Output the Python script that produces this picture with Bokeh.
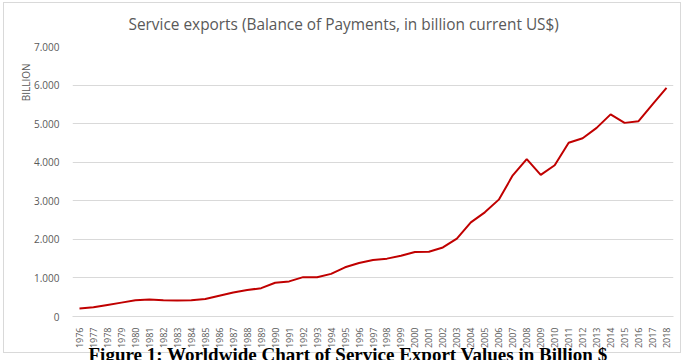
import math
from bokeh.plotting import figure
from bokeh.models import FixedTicker, CustomJSTickFormatter, Title, Range1d
from bokeh.embed import file_html
from bokeh.resources import INLINE

# Service exports, balance of payments, billion current US$
years = list(range(1976, 2019))
exports = [210, 240, 300, 360, 420, 440, 420, 415, 420, 455,
           540, 620, 685, 735, 875, 910, 1020, 1020, 1105, 1275,
           1385, 1465, 1500, 1575, 1670, 1680, 1790, 2020, 2440, 2700,
           3030, 3660, 4080, 3670, 3920, 4505, 4620, 4890, 5240, 5020,
           5065, 5500, 5930]
y_ticks = [0, 1000, 2000, 3000, 4000, 5000, 6000, 7000]

title_text = "Service exports (Balance of Payments, in billion current US$)"
axis_label = "BILLION"
caption_text = "Figure 1: Worldwide Chart of Service Export Values in Billion $"

W, H = 687, 360
FL, FR, FT, FB = 72, 673, 45, 316  # frame edges in canvas pixels
grey_txt = "#595959"
rule = "#d9d9d9"

# thin chart border drawn behind the (transparent) canvas margin
line = f"linear-gradient({rule},{rule})"
border_bg = ", ".join([
    f"{line} 3px 2px / 678px 1px no-repeat",
    f"{line} 3px 352px / 678px 1px no-repeat",
    f"{line} 3px 2px / 1px 351px no-repeat",
    f"{line} 680px 2px / 1px 351px no-repeat",
    "white",
])

p = figure(width=W, height=H, output_backend="svg", toolbar_location=None,
           x_range=Range1d(1975.5, 2018.5), y_range=Range1d(0, 7000),
           min_border_left=FL, min_border_right=W - FR,
           min_border_top=FT, min_border_bottom=H - FB,
           styles={"background": border_bg})
p.outline_line_color = None
p.background_fill_color = "white"
p.border_fill_alpha = 0

# title
p.title.text = title_text
p.title.align = "left"
p.title.offset = 56
p.title.text_font = "Open Sans"
p.title.text_font_style = "normal"
p.title.text_font_size = "15.4px"
p.title.text_color = grey_txt
p.title.standoff = 23

# y axis: labels only, thousands with a dot
p.yaxis.ticker = FixedTicker(ticks=y_ticks)
p.yaxis.formatter = CustomJSTickFormatter(
    code="return tick.toFixed(0).replace(/\\B(?=(\\d{3})+(?!\\d))/g, '.');")
p.yaxis.axis_line_color = None
p.yaxis.major_tick_line_color = None
p.yaxis.minor_tick_line_color = None
p.yaxis.major_label_text_font = "Open Sans"
p.yaxis.major_label_text_font_size = "10px"
p.yaxis.major_label_text_color = grey_txt
p.yaxis.major_label_standoff = 7

# x axis: every year, rotated
p.xaxis.ticker = FixedTicker(ticks=years)
p.xaxis.axis_line_color = rule
p.xaxis.major_tick_line_color = None
p.xaxis.minor_tick_line_color = None
p.xaxis.major_label_orientation = math.pi / 2
p.xaxis.major_label_text_font = "Open Sans"
p.xaxis.major_label_text_font_size = "9px"
p.xaxis.major_label_text_color = grey_txt
p.xaxis.major_label_standoff = 5

p.xgrid.grid_line_color = None
p.ygrid.ticker = FixedTicker(ticks=y_ticks)
p.ygrid.grid_line_color = rule
p.ygrid.grid_line_width = 1

p.line(years, exports, line_color="#c00000", line_width=2)

# vertical unit label at the top of the value axis
p.add_layout(Title(text=axis_label, align="right", offset=17, standoff=-3,
                   text_font="Open Sans", text_font_style="normal",
                   text_font_size="10px", text_color=grey_txt), "left")

# figure caption under the chart border
p.add_layout(Title(text=caption_text, align="left", offset=16, standoff=-15,
                   vertical_align="top",
                   text_font="Liberation Serif", text_font_style="bold",
                   text_font_size="19px", text_color="black"), "below")

open("out.html", "w").write(file_html(p, INLINE))
